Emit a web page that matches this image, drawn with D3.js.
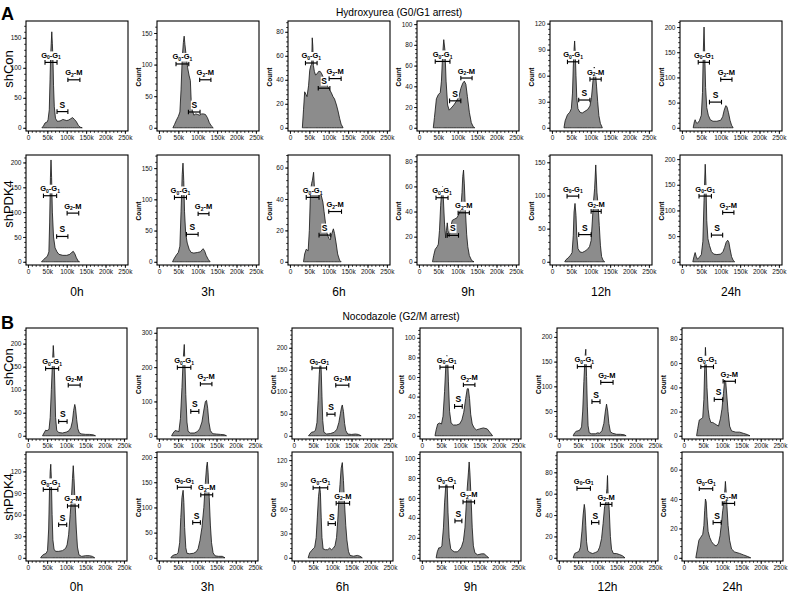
<!DOCTYPE html>
<html><head><meta charset="utf-8">
<script src="https://cdn.jsdelivr.net/npm/d3@7"></script>
<style>body{margin:0;background:#fff} svg{opacity:0.999} text{font-family:"Liberation Sans",Arial,sans-serif}</style>
</head><body><svg id="c" width="794" height="594"></svg>
<script>
// ---------------- DATA ----------------
const timeLabels = ["0h","3h","6h","9h","12h","24h"];
const xTickValues = [0,50,100,150,200,250];   // DNA content, thousands
const rowNames = ["shCon","shPDK4","shCon","shPDK4"];
const blockTitles = ["Hydroxyurea (G0/G1 arrest)","Nocodazole (G2/M arrest)"];
const blockLetters = ["A","B"];

// Hydroxyurea, shCon  ([DNA content k, count])
const huCon0h = [[36,0],[40,3],[44,8],[50,10],[52,14],[55,30],[57,80],[58.5,120],[60,140],[61.5,160],[63,140],[64.5,115],[66,70],[68,35],[71,16],[75,11],[80,11],[85,12],[90,14],[95,13],[100,12],[105,13],[110,15],[115,17],[120,14],[125,10],[130,4],[135,1],[140,0]];
const huCon3h = [[36,0],[40,5],[45,12],[50,18],[54,25],[57,60],[60,110],[63,135],[65,145],[67,132],[70,115],[74,95],[78,82],[81,75],[83,45],[86,28],[90,20],[95,22],[100,21],[105,20],[110,22],[115,22],[120,21],[125,16],[130,8],[135,3],[140,0]];
const huCon6h = [[32,0],[35,15],[38,30],[41,28],[44,26],[48,35],[51,48],[54,52],[56,53],[57.5,75],[59,68],[60.5,52],[63,47],[66,44],[70,45],[74,47],[78,47],[82,45],[86,42],[90,40],[94,37],[98,34],[102,32],[107,29],[111,26],[115,24],[120,19],[124,14],[128,8],[132,3],[137,0]];
const huCon9h = [[37,0],[40,10],[45,28],[50,32],[55,34],[58,45],[61,70],[64,85],[67,75],[70,45],[74,22],[78,17],[83,19],[90,22],[97,26],[103,30],[108,38],[113,43],[117,45],[121,42],[125,30],[130,15],[135,5],[140,1],[144,0]];
const huCon12h = [[31,0],[34,8],[40,15],[46,18],[50,22],[53,40],[55,70],[57,90],[58.5,100],[60,88],[62,60],[64,35],[67,22],[72,18],[78,17],[85,19],[92,21],[98,25],[102,35],[106,55],[109,70],[112,65],[115,48],[118,30],[121,14],[125,5],[130,0]];
const huCon24h = [[29,0],[32,12],[34,16],[37,10],[40,9],[45,14],[50,25],[53,70],[55,150],[57,200],[59,140],[61,80],[64,40],[68,25],[73,16],[80,13],[90,13],[100,15],[105,22],[109,35],[113,44],[116,42],[120,30],[124,15],[128,5],[132,0]];

// Hydroxyurea, shPDK4
const huPdk0h = [[35,0],[40,4],[45,8],[50,11],[54,20],[56,80],[58,170],[59.5,205],[61,170],[63,100],[66,50],[70,28],[75,20],[80,15],[90,13],[100,13],[108,15],[113,19],[117,21],[121,16],[125,8],[130,1],[133,0]];
const huPdk3h = [[35,0],[40,6],[45,11],[50,15],[54,25],[57,80],[60,140],[62,158],[64,130],[66,80],[69,45],[73,30],[78,20],[83,15],[90,14],[100,15],[107,16],[111,19],[114,21],[118,17],[122,10],[127,4],[132,0]];
const huPdk6h = [[35,0],[38,5],[42,8],[47,7],[50,20],[53,45],[56,50],[58,52],[61,57],[63,48],[66,46],[70,44],[75,45],[80,43],[85,38],[88,32],[92,24],[96,18],[100,15],[104,14],[108,18],[112,21],[115,18],[119,12],[123,5],[128,1],[132,0]];
const huPdk9h = [[35,0],[38,5],[42,10],[47,12],[50,14],[53,25],[56,45],[59,58],[61,60],[63,50],[66,30],[69,19],[71,25],[73,31],[75,25],[78,20],[82,28],[86,33],[92,34],[98,35],[103,38],[108,42],[111,55],[113,68],[115,73],[117,62],[120,40],[123,22],[126,12],[130,5],[136,1],[142,0]];
const huPdk12h = [[33,0],[36,3],[42,6],[48,10],[52,14],[55,40],[57,75],[59.5,88],[62,70],[64,40],[67,20],[72,15],[78,14],[85,16],[92,19],[97,23],[101,32],[104,60],[107,90],[110,110],[113,146],[116,105],[119,85],[122,55],[125,25],[128,8],[132,2],[136,0]];
const huPdk24h = [[28,0],[31,10],[34,18],[37,10],[40,5],[45,9],[50,14],[54,40],[57,120],[60,190],[62,150],[64,80],[67,45],[71,32],[76,20],[82,15],[90,14],[100,15],[106,20],[110,28],[114,38],[118,42],[121,38],[124,25],[128,10],[132,3],[136,0]];

// Nocodazole, shCon
const nocCon0h = [[38,0],[42,6],[46,12],[50,11],[55,14],[58,40],[61,100],[64,160],[66,196],[68,170],[70,110],[72,40],[75,12],[80,7],[90,6],[100,8],[107,11],[112,18],[116,32],[119,55],[122,68],[124,60],[127,35],[130,15],[134,6],[140,4],[150,3],[160,3],[170,2],[176,0]];
const nocCon3h = [[33,0],[37,8],[42,15],[47,14],[52,12],[56,50],[60,140],[63,220],[66,266],[68,200],[70,120],[73,40],[76,13],[82,8],[92,8],[100,12],[106,20],[112,40],[117,75],[121,100],[124,103],[127,80],[130,40],[134,15],[140,6],[150,5],[160,4],[170,3],[176,0]];
const nocCon6h = [[38,0],[42,4],[46,8],[51,9],[56,12],[60,30],[63,80],[66,140],[69,175],[71,150],[73,90],[75,35],[78,8],[85,4],[95,5],[105,8],[112,15],[117,30],[121,50],[124,65],[126,70],[129,55],[132,28],[135,12],[140,4],[150,3],[160,4],[168,3],[175,0]];
const nocCon9h = [[34,0],[37,6],[41,12],[46,13],[51,12],[55,20],[59,45],[62,70],[65,82],[67,80],[69,55],[72,25],[76,13],[82,11],[90,11],[98,12],[104,16],[109,24],[114,38],[118,48],[121,48],[124,38],[127,22],[131,12],[136,8],[142,6],[150,7],[160,8],[170,7],[178,3],[184,0]];
const nocCon12h = [[37,0],[41,6],[45,9],[50,10],[55,12],[59,18],[62,50],[65,110],[68,160],[70,175],[72,120],[74,60],[76,20],[79,6],[85,4],[95,4],[101,6],[106,5],[112,10],[117,25],[121,50],[124,64],[127,50],[130,25],[134,8],[140,5],[150,3],[160,3],[170,2],[175,0]];
const nocCon24h = [[33,0],[36,6],[40,13],[45,14],[49,15],[52,30],[54,55],[56,73],[58,60],[60,40],[63,22],[66,15],[70,11],[75,11],[80,10],[85,9],[90,8],[95,14],[99,22],[103,35],[106,46],[109,44],[112,32],[115,20],[119,8],[124,4],[135,3],[145,3],[155,2],[165,1],[172,0]];

// Nocodazole, shPDK4
const nocPdk0h = [[33,0],[37,3],[42,5],[47,6],[51,10],[54,40],[56,90],[58,120],[59.5,130],[61,110],[63,60],[65,25],[68,12],[72,9],[80,9],[90,10],[98,13],[102,18],[106,32],[110,60],[113,80],[116,110],[118,128],[120,110],[123,75],[126,40],[129,15],[133,4],[140,2],[150,3],[160,3],[168,2],[174,0]];
const nocPdk3h = [[31,0],[35,4],[40,6],[46,7],[50,10],[54,30],[57,80],[60,120],[63,134],[65,110],[67,60],[70,20],[73,9],[80,8],[90,9],[97,12],[102,18],[107,35],[112,60],[117,100],[121,150],[124,180],[126,190],[128,170],[131,120],[134,65],[137,30],[141,10],[146,4],[155,3],[165,3],[172,0]];
const nocPdk6h = [[37,0],[41,6],[46,9],[50,11],[54,13],[58,25],[61,50],[64,75],[67,88],[69,80],[71,50],[73,25],[76,11],[82,10],[88,10],[93,12],[98,10],[103,12],[107,15],[111,25],[114,45],[117,70],[120,90],[123,110],[126,117],[129,95],[132,65],[135,40],[138,22],[142,8],[146,3],[155,2],[165,3],[172,2],[178,0]];
const nocPdk9h = [[37,0],[40,6],[44,10],[48,10],[52,12],[56,30],[59,55],[62,72],[64,77],[66,70],[68,45],[71,20],[75,9],[80,7],[85,6],[92,6],[98,8],[103,11],[108,17],[112,30],[115,50],[118,70],[121,85],[123,96],[125,85],[128,60],[131,30],[134,12],[138,5],[145,3],[155,4],[162,4],[168,2],[174,0]];
const nocPdk12h = [[37,0],[41,4],[46,5],[52,6],[56,10],[60,25],[63,40],[66,50],[68,45],[70,30],[72,15],[75,7],[80,5],[88,4],[95,5],[101,6],[106,10],[111,18],[115,32],[119,48],[122,52],[125,65],[126.5,77],[128,60],[131,45],[134,20],[137,8],[142,4],[150,4],[158,3],[165,2],[172,0]];
const nocPdk24h = [[31,0],[35,6],[39,12],[44,14],[49,16],[52,22],[54,32],[56,40],[58,38],[60,28],[63,18],[67,14],[72,11],[78,9],[84,8],[90,10],[94,15],[98,24],[101,32],[104,38],[106,44],[108,52],[110,45],[112,35],[115,22],[119,12],[124,6],[132,4],[145,3],[155,2],[165,1],[174,0]];

// y-axis maxima and tick labels (counts)
const huConYMax = [178,169,89,103,123,212];
const huPdkYMax = [215,171,68,85,161,208];
const nocConYMax = [234,314,245,110,218,89];
const nocPdkYMax = [147,210,130,106,99,72];
const huConYTicks = [[0,50,100,150],[0,50,100,150],[0,20,40,60,80],[0,20,40,60,80,100],[0,30,60,90,120],[0,50,100,150,200]];
const huPdkYTicks = [[0,50,100,150,200],[0,50,100,150],[0,20,40,60],[0,20,40,60,80],[0,50,100,150],[0,50,100,150,200]];
const nocConYTicks = [[0,50,100,150,200],[0,100,200,300],[0,50,100,150,200],[0,20,40,60,80,100],[0,50,100,150,200],[0,20,40,60,80]];
const nocPdkYTicks = [[0,30,60,90,120],[0,50,100,150,200],[0,30,60,90,120],[0,20,40,60,80,100],[0,20,40,60,80],[0,20,40,60]];

// gates: [G0/G1 lo, hi, level, S lo, hi, level, G2/M lo, hi, level]
const huConGates = [[44,75,109,75,103,27,103,134,80],[44,77,101,76,106,25,105,134,76],[40,70,54,73,103,33,101,132,41],[42,80,64,79,108,26,108,137,48],[40,69,76,69,98,32,98,127,56],[42,71,130,71,102,51,100,129,96]];
const huPdkGates = [[40,74,133,74,103,51,101,131,98],[40,71,103,71,101,44,101,129,77],[42,75,41,75,104,17,100,133,32],[44,75,51,73,102,21,101,130,39],[39,69,99,69,101,41,101,127,76],[44,76,128,76,105,52,105,134,96]];
const nocConGates = [[46,80,146,80,102,31,105,136,110],[48,83,199,83,104,71,108,138,151],[47,85,154,86,107,49,109,143,115],[47,82,70,85,105,30,108,138,52],[48,84,140,86,107,69,109,141,108],[44,77,57,79,101,30,102,134,45]];
const nocPdkGates = [[40,78,95,80,101,46,103,132,72],[48,84,140,88,108,70,109,140,125],[50,88,86,89,108,42,110,145,67],[45,82,71,86,104,37,107,137,56],[47,82,65,85,104,33,108,138,50],[40,75,47,76,97,24,100,132,37]];

// ---------------- LAYOUT / DRAWING ----------------
const rowsData = [
  {series:[huCon0h,huCon3h,huCon6h,huCon9h,huCon12h,huCon24h], yMax:huConYMax, yTicks:huConYTicks, gates:huConGates},
  {series:[huPdk0h,huPdk3h,huPdk6h,huPdk9h,huPdk12h,huPdk24h], yMax:huPdkYMax, yTicks:huPdkYTicks, gates:huPdkGates},
  {series:[nocCon0h,nocCon3h,nocCon6h,nocCon9h,nocCon12h,nocCon24h], yMax:nocConYMax, yTicks:nocConYTicks, gates:nocConGates},
  {series:[nocPdk0h,nocPdk3h,nocPdk6h,nocPdk9h,nocPdk12h,nocPdk24h], yMax:nocPdkYMax, yTicks:nocPdkYTicks, gates:nocPdkGates}
];
const layout = [
  {top:21, h:110, lefts:[26,157,288,417,550,680], w:102, rowLabelY:69},
  {top:155, h:110, lefts:[26,157,288,417,550,680], w:102, rowLabelY:204},
  {top:328, h:111, lefts:[26,157,292,420,557,682], w:101, rowLabelY:367},
  {top:452, h:109, lefts:[26,157,292,420,557,682], w:101, rowLabelY:497}
];

const svg = d3.select("#c");
svg.append("rect").attr("width",794).attr("height",594).attr("fill","#fff");

function gateLabel(g, cx, by, kind){
  const t = g.append("text").attr("x",cx).attr("y",by).attr("text-anchor","middle")
    .attr("font-weight","bold").attr("font-size",7.5).attr("fill","#000");
  if(kind==="S"){ t.text("S"); t.attr("font-size",8.5); }
  else {
    const a = kind==="G1" ? ["G","0","-G","1"] : ["G","2","-M",null];
    t.append("tspan").text(a[0]);
    t.append("tspan").attr("font-size",5).attr("dy",1.6).text(a[1]);
    t.append("tspan").attr("dy",-1.6).text(a[2]);
    if(a[3]) t.append("tspan").attr("font-size",5).attr("dy",1.6).text(a[3]);
  }
  const b = t.node().getBBox();
  g.insert("rect", function(){ return t.node(); })
    .attr("x",b.x-0.5).attr("y",b.y+0.5).attr("width",b.width+1).attr("height",b.height-1).attr("fill","#fff");
}

function bracket(g, x, y, lo, hi, lvl){
  const yy = y(lvl);
  g.append("line").attr("x1",x(lo)).attr("x2",x(hi)).attr("y1",yy).attr("y2",yy).attr("stroke","#000").attr("stroke-width",1.2);
  [lo,hi].forEach(v=>g.append("line").attr("x1",x(v)).attr("x2",x(v)).attr("y1",yy-2.3).attr("y2",yy+2.3).attr("stroke","#000").attr("stroke-width",1.1));
}

rowsData.forEach((row, ri) => {
  const L = layout[ri];
  svg.append("text").attr("transform",`translate(13,${L.rowLabelY}) rotate(-90)`).attr("text-anchor","middle")
    .attr("font-size",13).attr("fill","#000").text(rowNames[ri]);
  row.series.forEach((pts, ci) => {
    const left = L.lefts[ci], top = L.top, w = L.w, h = L.h;
    const yMax = row.yMax[ci];
    const x = d3.scaleLinear().domain([-5,258]).range([left, left+w]);
    const y = d3.scaleLinear().domain([-yMax*0.03, yMax]).range([top+h, top]);
    const g = svg.append("g");
    const area = d3.area().x(d=>x(d[0])).y0(y(0)).y1(d=>y(d[1])).curve(d3.curveLinear);
    g.append("path").datum(pts).attr("d",area).attr("fill","#8c8c8c").attr("stroke","#111").attr("stroke-width",0.8).attr("stroke-linejoin","round");
    g.append("rect").attr("x",left).attr("y",top).attr("width",w).attr("height",h).attr("fill","none").attr("stroke","#000").attr("stroke-width",1.1);
    const xa = g.append("g").attr("transform",`translate(0,${top+h})`)
      .call(d3.axisBottom(x).tickValues(xTickValues).tickSize(3).tickPadding(1.5).tickFormat(d=>d===0?"0":d+"k"));
    const xm = g.append("g").attr("transform",`translate(0,${top+h})`)
      .call(d3.axisBottom(x).tickValues(d3.range(0,251,10)).tickSize(1.8).tickFormat(""));
    const ticks = row.yTicks[ci];
    const step = ticks[1]-ticks[0];
    const ya = g.append("g").attr("transform",`translate(${left},0)`)
      .call(d3.axisLeft(y).tickValues(ticks).tickSize(3).tickPadding(1.5));
    const ym = g.append("g").attr("transform",`translate(${left},0)`)
      .call(d3.axisLeft(y).tickValues(d3.range(0, yMax+0.001, step/5)).tickSize(1.8).tickFormat(""));
    [xa,xm,ya,ym].forEach(a=>{ a.select(".domain").remove(); a.selectAll("line").attr("stroke","#000").attr("stroke-width",0.8); a.selectAll("text").attr("font-size",6.5).attr("fill","#111").attr("font-family","Liberation Sans, Arial, sans-serif"); });
    if(ci>0){
      g.append("text").attr("transform",`translate(${left-16},${top+h/2+1}) rotate(-90)`).attr("text-anchor","middle")
        .attr("font-size",6.5).attr("font-weight","bold").attr("fill","#000").text("Count");
    }
    const gt = row.gates[ci];
    bracket(g, x, y, gt[0], gt[1], gt[2]);
    bracket(g, x, y, gt[3], gt[4], gt[5]);
    bracket(g, x, y, gt[6], gt[7], gt[8]);
    gateLabel(g, x((gt[0]+gt[1])/2), y(gt[2])-4.5, "G1");
    gateLabel(g, x((gt[3]+gt[4])/2), y(gt[5])-4, "S");
    gateLabel(g, x((gt[6]+gt[7])/2), y(gt[8])-4.5, "G2");
    if(ri===1 || ri===3){
      svg.append("text").attr("x",left+w/2).attr("y", ri===1?296:591).attr("text-anchor","middle")
        .attr("font-size",12).attr("fill","#000").text(timeLabels[ci]);
    }
  });
});

svg.append("text").attr("x",399).attr("y",16).attr("text-anchor","middle").attr("font-size",10.2).attr("fill","#000").text(blockTitles[0]);
svg.append("text").attr("x",401).attr("y",320).attr("text-anchor","middle").attr("font-size",10.2).attr("fill","#000").text(blockTitles[1]);
svg.append("text").attr("x",1).attr("y",20).attr("font-size",18).attr("font-weight","bold").attr("fill","#000").text(blockLetters[0]);
svg.append("text").attr("x",1).attr("y",329).attr("font-size",18).attr("font-weight","bold").attr("fill","#000").text(blockLetters[1]);
</script></body></html>
